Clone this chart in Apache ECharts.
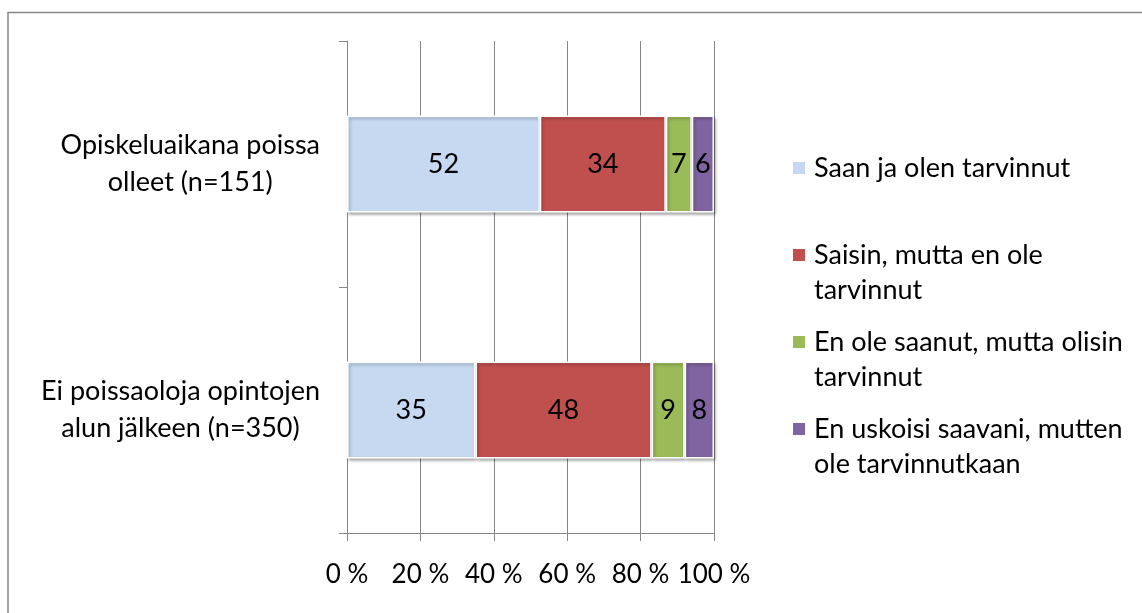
<!DOCTYPE html>
<html><head><meta charset="utf-8">
<script src="https://cdn.jsdelivr.net/npm/echarts@6/dist/echarts.min.js"></script>
<style>html,body{margin:0;padding:0;background:#fff}#c{width:1142px;height:613px}</style>
</head><body><div id="c"></div>
<script>
const categories = ['Opiskeluaikana poissa\nolleet (n=151)', 'Ei poissaoloja opintojen\nalun jälkeen (n=350)'];
const seriesNames = ['Saan ja olen tarvinnut', 'Saisin, mutta en ole tarvinnut', 'En ole saanut, mutta olisin tarvinnut', 'En uskoisi saavani, mutten ole tarvinnutkaan'];
const legendLines = [['Saan ja olen tarvinnut'], ['Saisin, mutta en ole', 'tarvinnut'], ['En ole saanut, mutta olisin', 'tarvinnut'], ['En uskoisi saavani, mutten', 'ole tarvinnutkaan']];
const saan = [52, 35];
const saisin = [34, 48];
const enOleSaanut = [7, 9];
const enUskoisi = [6, 8];
const xTicks = [0, 20, 40, 60, 80, 100];
const colors = ['#C6D9F1', '#C0504D', '#9BBB59', '#8064A2'];

const FONT = 'Lato';
const allSeries = [saan, saisin, enOleSaanut, enUskoisi];
const totals = categories.map((c, i) => allSeries.reduce((s, a) => s + a[i], 0));
const legendFirstLineY = [168, 255, 342, 429];
const LH = 35;

const chart = echarts.init(document.getElementById('c'), null, {renderer: 'canvas'});
const option = {
  animation: false,
  textStyle: {fontFamily: FONT, color: '#000'},
  graphic: [{
    type: 'rect', silent: true,
    shape: {x: 8, y: 12.5, width: 1400, height: 900},
    style: {fill: 'none', stroke: '#868686', lineWidth: 1.5}
  }],
  grid: {left: 347, right: 428, top: 41, bottom: 80, containLabel: false},
  legend: seriesNames.map((n, i) => {
    const lines = legendLines[i];
    const text = lines.length > 1 ? '\n' + lines.join('\n') : lines[0];
    const h = lines.length > 1 ? 3 * LH : LH;
    return {
      data: [n], orient: 'vertical', left: 791, top: legendFirstLineY[i] - h / 2, padding: 0,
      itemWidth: 14, itemHeight: 14, icon: 'rect',
      formatter: () => text,
      textStyle: {fontFamily: FONT, fontSize: 27, lineHeight: LH, color: '#000', padding: [0, 0, 0, 3]}
    };
  }),
  xAxis: {
    type: 'value', min: 0, max: 100, interval: 20,
    axisLine: {show: true, lineStyle: {color: '#868686', width: 1}},
    axisTick: {show: true, length: 8, lineStyle: {color: '#868686'}},
    splitLine: {show: true, lineStyle: {color: '#868686', width: 1}},
    axisLabel: {
      formatter: v => xTicks.includes(v) ? v + ' %' : '',
      fontFamily: FONT, fontSize: 26, lineHeight: 30, color: '#000', margin: 27
    }
  },
  yAxis: {
    type: 'category', data: categories, inverse: true,
    axisLine: {show: true, lineStyle: {color: '#868686', width: 1}},
    axisTick: {show: true, length: 8, lineStyle: {color: '#868686'}},
    splitLine: {show: false},
    axisLabel: {
      interval: 0, margin: 27,
      formatter: v => v.split('\n').map(l => '{c|' + l + '}').join('\n'),
      rich: {c: {align: 'center', fontFamily: FONT, fontSize: 27, lineHeight: 37, color: '#000'}}
    }
  },
  series: allSeries.map((arr, si) => ({
    name: seriesNames[si], type: 'bar', stack: 'total', barWidth: '39.4%',
    data: arr.map((v, ci) => v / totals[ci] * 100),
    itemStyle: {
      color: colors[si], borderColor: '#fff', borderWidth: 1.5,
      shadowColor: 'rgba(0,0,0,0.3)', shadowBlur: 3, shadowOffsetX: 1.5, shadowOffsetY: 2
    },
    label: {
      show: true, position: 'inside', color: '#000', fontFamily: FONT, fontSize: 27,
      formatter: p => String(arr[p.dataIndex])
    }
  }))
};
chart.setOption(option);
</script>
</body></html>
